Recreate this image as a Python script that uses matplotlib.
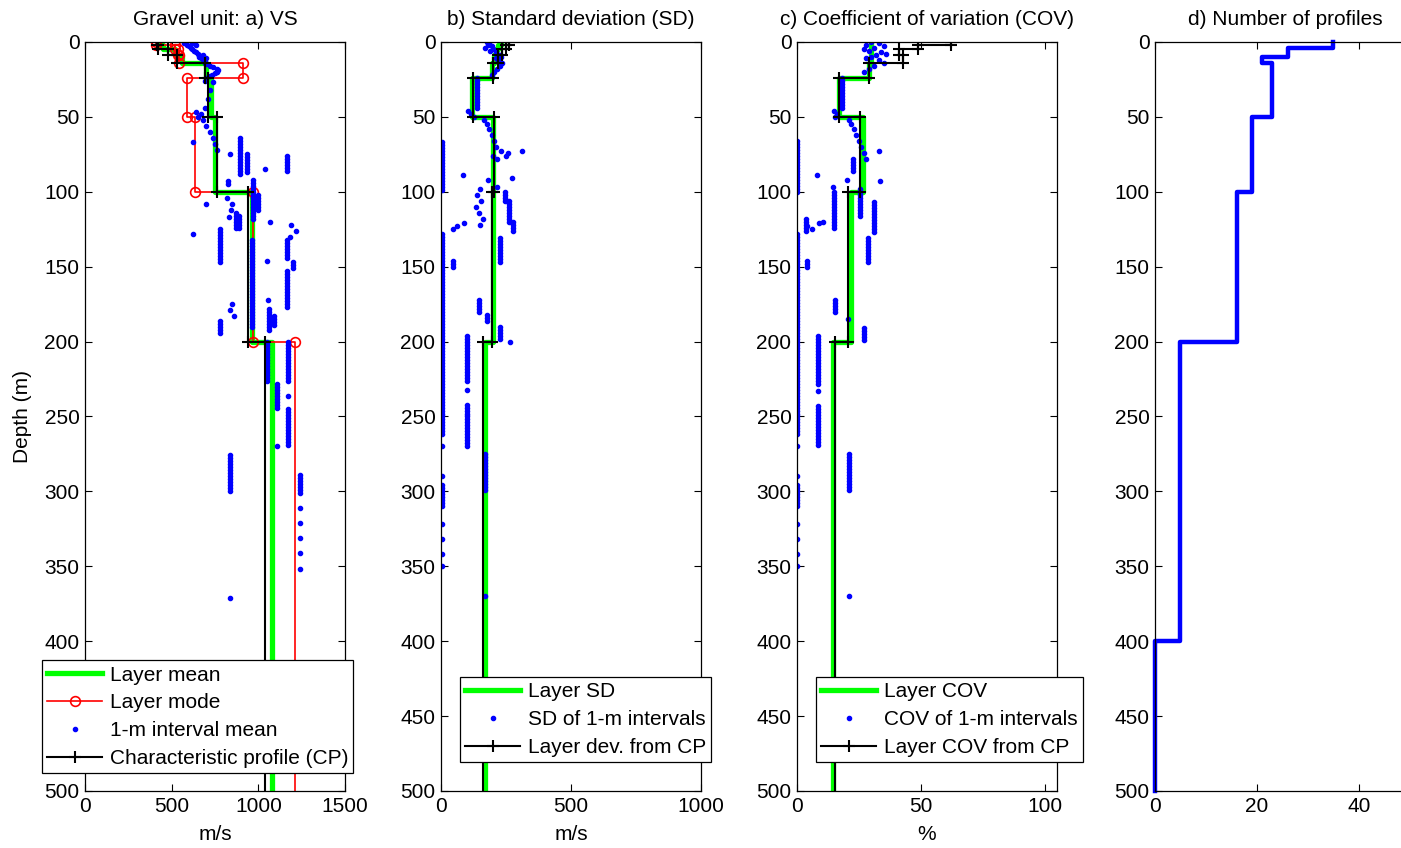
import numpy as np
import matplotlib
matplotlib.use("Agg")
import matplotlib.pyplot as plt

plt.rcParams['font.family'] = ['Liberation Sans', 'DejaVu Sans']
FS = 15
plt.rcParams['font.size'] = FS

# ---------------- data ----------------
layer_tops = [0, 2, 5, 9, 14, 24, 50, 100, 200]
layer_bottom = 500

# panel a (m/s)
vs_mean = [430, 450, 520, 560, 700, 725, 750, 963, 1078]
vs_mode = [410, 520, 535, 540, 910, 590, 635, 970, 1210]
vs_cp = [415, 420, 480, 530, 690, 710, 760, 940, 1040]

# 1-m interval means: (value, depth start, depth end)
vs_dot_val = [570, 620, 590, 600, 640, 610, 620, 630, 640, 650, 680, 655, 660, 700, 670, 680, 690, 690,
              700, 720, 740, 760, 770, 760, 750, 730, 720, 700, 690,
              740, 720, 710, 690, 670, 640, 650, 680, 700, 720, 740, 750, 760, 625,
              895, 933, 835, 1040, 1165, 825, 970, 1000, 625, 700, 820, 850, 845, 830, 870, 890,
              780, 963, 1067, 1190, 1215, 1180, 1165, 1200, 1165, 1050, 1055, 850, 835, 860,
              780, 1060, 1090, 1170, 1050, 1105, 1170, 1170, 1105, 837, 1240, 1240, 1240, 1240,
              1240, 1240, 837]
vs_dot_d0 = [1, 1, 2, 3, 2, 4, 5, 6, 7, 8, 9, 9, 10, 11, 11, 12, 13, 14,
             15, 16, 17, 18, 19, 20, 21, 22, 23, 24, 26,
             27, 32, 38, 44, 48, 47, 50, 52, 56, 60, 64, 68, 72, 67,
             64, 75, 75, 85, 76, 93, 92, 102, 128, 108, 104, 108, 112, 117, 114, 116,
             125, 132, 120, 122, 126, 130, 132, 147, 153, 146, 172, 175, 179, 183,
             186, 178, 183, 200, 200, 228, 236, 245, 270, 276, 289, 311, 321, 331,
             341, 352, 371]
vs_dot_d1 = [1, 1, 2, 3, 2, 4, 5, 6, 7, 8, 9, 9, 10, 11, 11, 12, 13, 14,
             15, 16, 17, 18, 19, 20, 21, 22, 23, 24, 26,
             27, 32, 38, 44, 48, 47, 50, 52, 56, 60, 64, 68, 72, 67,
             88, 88, 75, 85, 86, 96, 118, 112, 128, 108, 104, 108, 112, 117, 125, 124,
             148, 190, 120, 122, 126, 130, 145, 152, 177, 146, 172, 175, 179, 183,
             195, 193, 190, 226, 226, 245, 236, 270, 270, 301, 302, 311, 321, 331,
             341, 352, 371]

# panel b (m/s)
sd_layer = [230, 220, 210, 205, 195, 120, 200, 200, 170]
sd_cp = [260, 250, 235, 220, 200, 124, 205, 195, 162]
sd_dot_val = [175, 185, 180, 195, 170, 200, 190, 210, 215, 225, 230, 210, 220, 235, 225, 215, 205, 195,
              140, 105, 115, 125, 165, 175, 185, 195, 205, 210, 200, 215, 230, 250, 258, 310,
              4, 85, 273, 180, 215, 150, 140, 155, 135, 145, 160, 150, 245, 260, 275,
              60, 90, 45, 4, 228, 47, 145, 175, 228, 265, 100, 100, 100, 4, 4, 4, 4, 4, 4, 4, 170, 170]
sd_dot_d0 = [0, 1, 2, 3, 4, 5, 6, 7, 8, 9, 10, 11, 12, 14, 16, 18, 20, 22,
             24, 46, 48, 50, 52, 55, 58, 62, 66, 70, 76, 78, 73, 76, 74, 73,
             67, 89, 91, 92, 97, 98, 102, 106, 110, 114, 118, 122, 100, 106, 120,
             123, 121, 125, 128, 131, 146, 172, 182, 190, 200, 196, 232, 242, 270, 290, 296, 322, 332, 342, 350, 275, 370]
sd_dot_d1 = [0, 1, 2, 3, 4, 5, 6, 7, 8, 9, 10, 11, 12, 14, 16, 18, 20, 22,
             45, 46, 48, 50, 52, 55, 58, 62, 66, 70, 76, 78, 73, 76, 74, 73,
             100, 89, 91, 92, 97, 98, 102, 106, 110, 114, 118, 122, 106, 120, 126,
             123, 121, 125, 262, 148, 150, 181, 187, 198, 200, 226, 232, 270, 270, 290, 310, 322, 332, 342, 350, 300, 370]

# panel c (%)
cov_layer = [30, 30, 30, 30, 29, 17, 26.7, 21.8, 14.6]
cov_cp = [62, 49, 41, 43, 29, 17, 25.4, 20.6, 15.3]
cov_dot_val = [30, 33, 28, 35, 31, 27, 29, 34, 36, 32, 30, 28, 33, 35, 31, 29, 27,
               18, 15, 16, 15.5, 21, 22, 23, 24, 25, 26, 27, 28, 33,
               0, 8, 20, 22.6, 14.6, 33.5, 25.5, 31, 15, 4, 6, 9,
               0, 3.6, 10.5, 28.6, 4, 15.3, 20.6, 27, 8.5, 8.5, 8.5, 0, 0, 0, 0, 0, 0, 0, 21, 21]
cov_dot_d0 = [0, 1, 2, 3, 4, 5, 6, 7, 8, 9, 10, 11, 12, 14, 16, 18, 20,
              24, 46, 48, 50, 52, 55, 58, 62, 66, 70, 74, 78, 73,
              66, 89, 92, 78, 97, 93, 98, 107, 100, 123, 125, 121,
              128, 118, 120, 131, 146, 172, 185, 191, 196, 233, 243, 270, 290, 296, 322, 332, 342, 350, 275, 370]
cov_dot_d1 = [0, 1, 2, 3, 4, 5, 6, 7, 8, 9, 10, 11, 12, 14, 16, 18, 20,
              45, 46, 48, 50, 52, 55, 58, 62, 66, 70, 74, 78, 73,
              100, 89, 92, 87, 97, 93, 117, 127, 124, 123, 125, 121,
              262, 127, 120, 148, 150, 181, 185, 200, 228, 233, 270, 270, 290, 310, 322, 332, 342, 350, 300, 370]

# panel d
prof_bounds = [0, 4, 10, 14, 50, 100, 200, 400, 500]
prof_count = [35, 26, 21, 23, 19, 16, 5, 0]

titles = ["Gravel unit: a) VS", "b) Standard deviation (SD)",
          "c) Coefficient of variation (COV)", "d) Number of profiles"]
xlabels = ["m/s", "m/s", "%", ""]
xlims = [(0, 1500), (0, 1000), (0, 105), (0, 51)]
xticks = [[0, 500, 1000, 1500], [0, 500, 1000], [0, 50, 100], [0, 20, 40]]


def stairs(tops, bottom, vals):
    bounds = list(tops) + [bottom]
    xs, ys = [], []
    for i, v in enumerate(vals):
        xs += [v, v]
        ys += [bounds[i], bounds[i + 1]]
    return np.array(xs), np.array(ys)


def dots(vals, d0, d1):
    xs, ys = [], []
    for v, a, b in zip(vals, d0, d1):
        d = np.arange(a, b + 1, 2) if b > a else np.array([a])
        xs += [v] * len(d)
        ys += list(d)
    return np.array(xs), np.array(ys)


W, H = 1401, 848
fig = plt.figure(figsize=(W / 100, H / 100), dpi=100)
lefts = [85, 441, 797, 1155]
axw = 260
top_px, bot_px = 42, 791
axes = []
for i, l in enumerate(lefts):
    ax = fig.add_axes([l / W, 1 - bot_px / H, axw / W, (bot_px - top_px) / H])
    axes.append(ax)

GREEN = (0, 1, 0)
BLUE = (0, 0, 1)

for i, ax in enumerate(axes):
    ax.set_xlim(*xlims[i])
    ax.set_ylim(500, 0)
    ax.set_xticks(xticks[i])
    ax.set_yticks(np.arange(0, 501, 50))
    ax.tick_params(direction='in', top=True, right=True, length=5, width=0.8,
                   labelsize=FS, pad=4)
    for s in ax.spines.values():
        s.set_linewidth(0.9)
    ax.set_title(titles[i], fontsize=FS, pad=12)
    if xlabels[i]:
        ax.set_xlabel(xlabels[i], fontsize=FS, labelpad=7)

axes[0].set_ylabel("Depth (m)", fontsize=FS, labelpad=9)

line_marks = dict(markevery=slice(0, -1))

# ---- panel a
ax = axes[0]
x, y = stairs(layer_tops, layer_bottom, vs_mean)
h1, = ax.plot(x, y, color=GREEN, lw=3.8, label="Layer mean")
x, y = stairs(layer_tops, layer_bottom, vs_mode)
h2, = ax.plot(x, y, color='red', lw=1.2, marker='o', mfc='none', ms=7, mew=1.2,
              label="Layer mode", **line_marks)
x, y = dots(vs_dot_val, vs_dot_d0, vs_dot_d1)
h3, = ax.plot(x, y, ls='none', marker='.', color=BLUE, ms=6, label="1-m interval mean")
x, y = stairs(layer_tops, layer_bottom, vs_cp)
h4, = ax.plot(x, y, color='black', lw=1.5, marker='+', ms=9, mew=1.5,
              label="Characteristic profile (CP)", **line_marks)

leg_kw = dict(frameon=True, fancybox=False, framealpha=1, edgecolor='black',
              handlelength=2.65, handletextpad=0.35, labelspacing=0.42, borderpad=0.25,
              borderaxespad=0, fontsize=FS)
lg = fig.legend(handles=[h1, h2, h3, h4], loc='lower left',
                bbox_to_anchor=(42 / W, 1 - 773 / H), **leg_kw)
lg.get_frame().set_linewidth(0.9)

# ---- panel b
ax = axes[1]
x, y = stairs(layer_tops, layer_bottom, sd_layer)
g1, = ax.plot(x, y, color=GREEN, lw=3.8, label="Layer SD")
x, y = dots(sd_dot_val, sd_dot_d0, sd_dot_d1)
g2, = ax.plot(x, y, ls='none', marker='.', color=BLUE, ms=6, label="SD of 1-m intervals")
x, y = stairs(layer_tops, layer_bottom, sd_cp)
g3, = ax.plot(x, y, color='black', lw=1.5, marker='+', ms=9, mew=1.5,
              label="Layer dev. from CP", **line_marks)
lg = fig.legend(handles=[g1, g2, g3], loc='lower left',
                bbox_to_anchor=(460 / W, 1 - 762 / H), **leg_kw)
lg.get_frame().set_linewidth(0.9)

# ---- panel c
ax = axes[2]
x, y = stairs(layer_tops, layer_bottom, cov_layer)
k1, = ax.plot(x, y, color=GREEN, lw=3.8, label="Layer COV")
x, y = dots(cov_dot_val, cov_dot_d0, cov_dot_d1)
k2, = ax.plot(x, y, ls='none', marker='.', color=BLUE, ms=6, label="COV of 1-m intervals")
x, y = stairs(layer_tops, layer_bottom, cov_cp)
k3, = ax.plot(x, y, color='black', lw=1.5, marker='+', ms=9, mew=1.5,
              label="Layer COV from CP", **line_marks)
lg = fig.legend(handles=[k1, k2, k3], loc='lower left',
                bbox_to_anchor=(816 / W, 1 - 762 / H), **leg_kw)
lg.get_frame().set_linewidth(0.9)

# ---- panel d
ax = axes[3]
x, y = stairs(prof_bounds[:-1], prof_bounds[-1], prof_count)
ax.plot(x, y, color=BLUE, lw=3.2, clip_on=False)

fig.savefig("out.png", dpi=100)
